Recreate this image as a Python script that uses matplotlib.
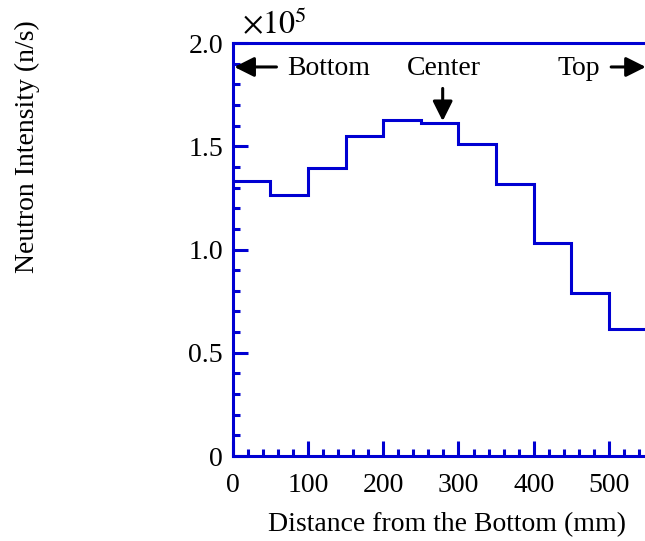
import numpy as np
import matplotlib.pyplot as plt

plt.rcParams['font.family'] = ['Liberation Serif', 'DejaVu Serif']
plt.rcParams['mathtext.fontset'] = 'stix'

# The data: 50 mm bins along the column, intensity in units of 1e5 n/s
edges = [0, 50, 100, 150, 200, 250, 300, 350, 400, 450, 500, 550]
intensity = [1.33, 1.265, 1.395, 1.55, 1.627, 1.612, 1.51, 1.317, 1.03, 0.788, 0.617]
xticks = [0, 100, 200, 300, 400, 500]
yticks = [0, 0.5, 1.0, 1.5, 2.0]
ytick_labels = ['0', '0.5', '1.0', '1.5', '2.0']

blue = '#0000d2'
fs = 20

fig = plt.figure(figsize=(6.45, 5.41), dpi=100)
ax = fig.add_axes([0.361, 0.157, 0.639, 0.7635])

ax.stairs(intensity, edges, baseline=None, color=blue, linewidth=2.2)

ax.set_xlim(0, 548)
ax.set_ylim(0, 2.0)
ax.set_xticks(xticks)
ax.set_xticks(np.arange(0, 560, 20), minor=True)
ax.set_yticks(yticks)
ax.set_yticklabels(ytick_labels)
ax.set_yticks(np.arange(0, 2.01, 0.1), minor=True)

for side in ['left', 'bottom', 'top']:
    ax.spines[side].set_color(blue)
    ax.spines[side].set_linewidth(2.2)
ax.spines['right'].set_visible(False)

ax.tick_params(which='both', direction='in', color=blue, width=2.2,
               labelsize=fs, top=False, right=False)
ax.tick_params(which='major', length=11)
ax.tick_params(axis='x', which='major', pad=12)
ax.tick_params(axis='y', which='major', pad=7)
ax.tick_params(which='minor', length=5)

ax.set_xlabel('Distance from the Bottom (mm)', fontsize=fs)
ax.xaxis.set_label_coords(0.52, -0.135)
fig.text(0.042, 0.729, 'Neutron Intensity (n/s)', rotation=90,
         fontsize=fs, ha='center', va='center')
fig.text(0.375, 0.955, r'$\times10^5$', fontsize=23, ha='left', va='center')

arrow = dict(arrowstyle='-|>', color='black', lw=2.2, mutation_scale=30,
             shrinkA=0, shrinkB=0)
ax.annotate('', xy=(2, 1.884), xytext=(58, 1.884), arrowprops=arrow)
ax.text(72, 1.875, 'Bottom', fontsize=fs, va='center', ha='left')
ax.text(281, 1.875, 'Center', fontsize=fs, va='center', ha='center')
ax.annotate('', xy=(279, 1.622), xytext=(279, 1.78), arrowprops=arrow)
ax.text(432, 1.875, 'Top', fontsize=fs, va='center', ha='left')
ax.annotate('', xy=(549, 1.884), xytext=(503, 1.884), arrowprops=arrow,
            annotation_clip=False)

fig.savefig('out.png', dpi=100)
